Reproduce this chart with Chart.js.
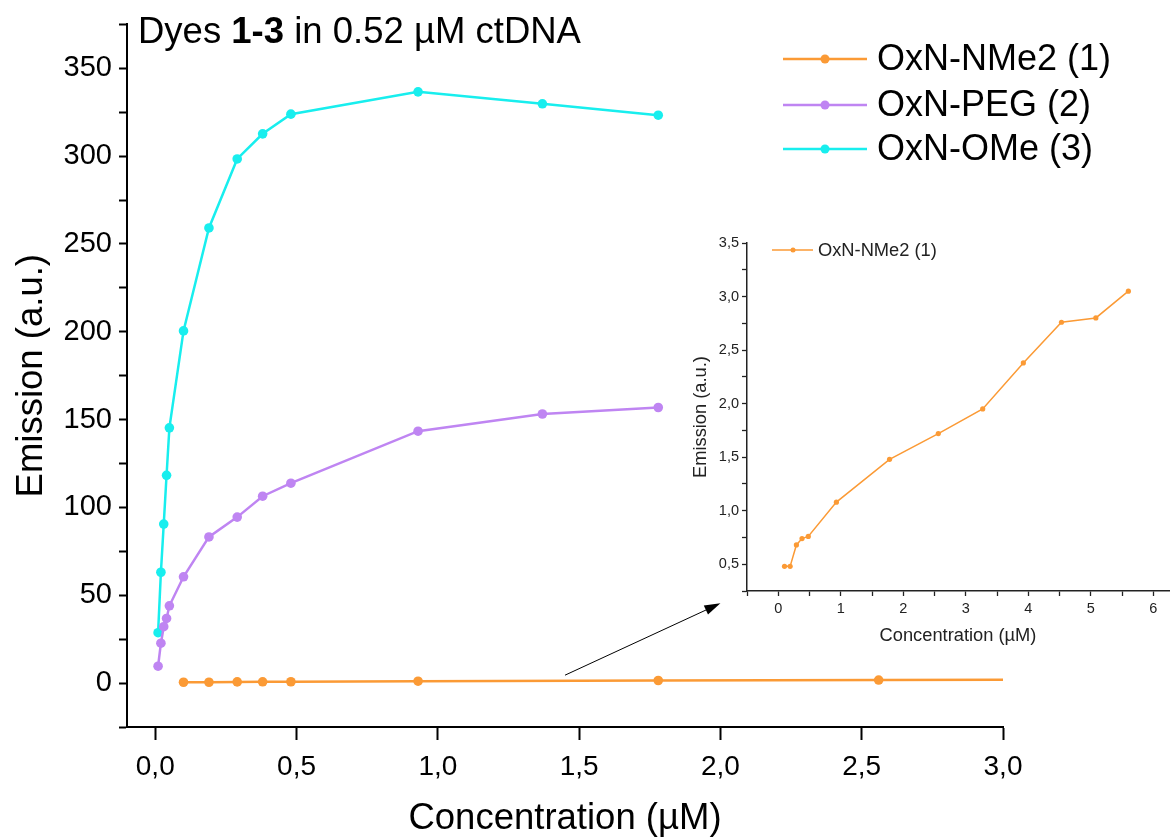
<!DOCTYPE html>
<html>
<head>
<meta charset="utf-8">
<script src="https://cdn.jsdelivr.net/npm/chart.js@4"></script>
<style>
  body { margin: 0; background: #fff; }
  #wrap { position: relative; width: 1173px; height: 839px; }
  #mainChart { position: absolute; left: 0; top: 0; }
  #insetChart { position: absolute; left: 690px; top: 220px; }
</style>
</head>
<body>
<div id="wrap">
  <canvas id="mainChart" width="1173" height="839"></canvas>
  <canvas id="insetChart" width="483" height="430"></canvas>
</div>
<script>
// concentrations (µM) shared by dyes 2 and 3
var conc = [0.01, 0.02, 0.03, 0.04, 0.05, 0.1, 0.19, 0.29, 0.38, 0.48, 0.93, 1.37, 1.78];
var pegEmission = [9.6, 22.7, 32.1, 36.8, 44.0, 60.5, 83.2, 94.5, 106.4, 113.8, 143.4, 153.2, 156.9];
var omeEmission = [28.7, 63.1, 90.5, 118.3, 145.3, 200.5, 259.1, 298.4, 312.7, 323.9, 336.6, 329.8, 323.3];

// dye 1 was measured on its own concentration series
var nme2Conc = [0.1, 0.19, 0.29, 0.38, 0.48, 0.93, 1.78, 2.56, 3.27, 3.92, 4.53, 5.08, 5.6];
var nme2Emission = [0.48, 0.48, 0.68, 0.74, 0.76, 1.08, 1.48, 1.72, 1.95, 2.38, 2.76, 2.80, 3.05];

var seriesNames = ['OxN-NMe2 (1)', 'OxN-PEG (2)', 'OxN-OMe (3)'];
var seriesColors = ['#fb9a35', '#bf85f2', '#18eeee'];

// arrow from the dye 1 curve to the inset, in data units of the main chart
var arrowFrom = { x: 1.45, y: 4.5 };
var arrowTo = { x: 2.0, y: 45.4 };

var FONT = "'Liberation Sans', Arial, sans-serif";

function pts(xs, ys) {
    return xs.map(function (x, i) { return { x: x, y: ys[i] }; });
}
function comma(v, d) {
    return v.toFixed(d).replace('.', ',');
}
function isMultiple(v, step) {
    var r = v / step;
    return Math.abs(r - Math.round(r)) < 1e-6;
}

// title, legend and arrow for the main chart
var mainDecor = {
    id: 'mainDecor',
    afterDraw: function (chart) {
        var ctx = chart.ctx;
        ctx.save();

        // title with bold dye numbers
        ctx.fillStyle = '#000';
        ctx.textBaseline = 'alphabetic';
        var x = 138, y = 43;
        var parts = [['Dyes ', ''], ['1-3', 'bold '], [' in 0.52 µM ctDNA', '']];
        parts.forEach(function (p) {
            ctx.font = p[1] + '36.5px ' + FONT;
            ctx.fillText(p[0], x, y);
            x += ctx.measureText(p[0]).width;
        });

        // legend
        var rows = [59, 105, 149];
        chart.data.datasets.forEach(function (ds, i) {
            var ly = rows[i];
            ctx.strokeStyle = ds.borderColor;
            ctx.lineWidth = 2.5;
            ctx.beginPath();
            ctx.moveTo(783, ly);
            ctx.lineTo(867, ly);
            ctx.stroke();
            ctx.fillStyle = ds.borderColor;
            ctx.beginPath();
            ctx.arc(825, ly, 4.5, 0, Math.PI * 2);
            ctx.fill();
            ctx.fillStyle = '#000';
            ctx.font = '36px ' + FONT;
            ctx.textBaseline = 'middle';
            ctx.fillText(ds.label, 877, ly + 1);
        });

        // arrow towards the inset
        var sx = chart.scales.x, sy = chart.scales.y;
        var x1 = sx.getPixelForValue(arrowFrom.x), y1 = sy.getPixelForValue(arrowFrom.y);
        var x2 = sx.getPixelForValue(arrowTo.x), y2 = sy.getPixelForValue(arrowTo.y);
        var ang = Math.atan2(y2 - y1, x2 - x1);
        ctx.strokeStyle = '#000';
        ctx.fillStyle = '#000';
        ctx.lineWidth = 1;
        ctx.beginPath();
        ctx.moveTo(x1, y1);
        ctx.lineTo(x2 - 10 * Math.cos(ang), y2 - 10 * Math.sin(ang));
        ctx.stroke();
        ctx.beginPath();
        ctx.moveTo(x2, y2);
        ctx.lineTo(x2 - 16 * Math.cos(ang) + 5 * Math.sin(ang), y2 - 16 * Math.sin(ang) - 5 * Math.cos(ang));
        ctx.lineTo(x2 - 16 * Math.cos(ang) - 5 * Math.sin(ang), y2 - 16 * Math.sin(ang) + 5 * Math.cos(ang));
        ctx.closePath();
        ctx.fill();

        ctx.restore();
    }
};

var mainCtx = document.getElementById('mainChart').getContext('2d');
var mainChart = new Chart(mainCtx, {
    type: 'line',
    data: {
        datasets: [
            { label: seriesNames[0], data: pts(nme2Conc, nme2Emission) },
            { label: seriesNames[1], data: pts(conc, pegEmission) },
            { label: seriesNames[2], data: pts(conc, omeEmission) }
        ].map(function (ds, i) {
            ds.borderColor = seriesColors[i];
            ds.backgroundColor = seriesColors[i];
            ds.borderWidth = 2.5;
            ds.pointRadius = 4.8;
            ds.pointBorderWidth = 0;
            ds.tension = 0;
            return ds;
        })
    },
    options: {
        responsive: false,
        animation: false,
        layout: { padding: { top: 21, right: 170, left: 0, bottom: 0 } },
        plugins: {
            legend: { display: false },
            tooltip: { enabled: false }
        },
        scales: {
            x: {
                type: 'linear',
                min: -0.1,
                max: 3.0,
                afterFit: function (scale) { scale.height = 112; },
                ticks: {
                    stepSize: 0.5,
                    includeBounds: false,
                    color: '#000',
                    padding: 10,
                    font: { family: FONT, size: 28 },
                    callback: function (v) { return comma(v, 1); }
                },
                grid: { drawOnChartArea: false, drawTicks: true, tickLength: 13, tickWidth: 2, tickColor: '#000' },
                border: { display: true, color: '#000', width: 2 },
                title: {
                    display: true,
                    text: 'Concentration (µM)',
                    color: '#000',
                    font: { family: FONT, size: 36.5, lineHeight: 1.08 },
                    padding: { top: 0, bottom: 0 }
                }
            },
            y: {
                min: -25,
                max: 375,
                afterFit: function (scale) { scale.width = 127; },
                ticks: {
                    stepSize: 25,
                    includeBounds: false,
                    color: '#000',
                    padding: 7,
                    font: { family: FONT, size: 29 },
                    callback: function (v) {
                        return (v >= 0 && v <= 350 && isMultiple(v, 50)) ? String(v) : '';
                    }
                },
                grid: { drawOnChartArea: false, drawTicks: true, tickLength: 8, tickWidth: 2, tickColor: '#000' },
                border: { display: true, color: '#000', width: 2 },
                title: {
                    display: true,
                    text: 'Emission (a.u.)',
                    color: '#000',
                    font: { family: FONT, size: 36.5 },
                    padding: { top: 10, bottom: 0 }
                }
            }
        }
    },
    plugins: [mainDecor]
});

// legend for the inset
var insetLegend = {
    id: 'insetLegend',
    afterDraw: function (chart) {
        var ctx = chart.ctx;
        var ds = chart.data.datasets[0];
        ctx.save();
        ctx.strokeStyle = ds.borderColor;
        ctx.lineWidth = 1.3;
        ctx.beginPath();
        ctx.moveTo(82, 30);
        ctx.lineTo(123, 30);
        ctx.stroke();
        ctx.fillStyle = ds.borderColor;
        ctx.beginPath();
        ctx.arc(103, 30, 2.5, 0, Math.PI * 2);
        ctx.fill();
        ctx.fillStyle = '#222';
        ctx.font = '18.3px ' + FONT;
        ctx.textBaseline = 'middle';
        ctx.fillText(ds.label, 128, 31);
        ctx.restore();
    }
};

var insetCtx = document.getElementById('insetChart').getContext('2d');
var insetChart = new Chart(insetCtx, {
    type: 'line',
    data: {
        datasets: [{
            label: seriesNames[0],
            data: pts(nme2Conc, nme2Emission),
            borderColor: seriesColors[0],
            backgroundColor: seriesColors[0],
            borderWidth: 1.5,
            pointRadius: 2.6,
            pointBorderWidth: 0,
            tension: 0
        }]
    },
    options: {
        responsive: false,
        animation: false,
        layout: { padding: { top: 23, right: 2, left: 0, bottom: 0 } },
        plugins: {
            legend: { display: false },
            tooltip: { enabled: false }
        },
        scales: {
            x: {
                type: 'linear',
                min: -0.5,
                max: 6.25,
                afterFit: function (scale) { scale.height = 59; },
                ticks: {
                    stepSize: 0.5,
                    includeBounds: false,
                    color: '#222',
                    padding: 4,
                    font: { family: FONT, size: 14.5 },
                    callback: function (v) { return (v >= 0 && isMultiple(v, 1)) ? String(v) : ''; }
                },
                grid: { drawOnChartArea: false, drawTicks: true, tickLength: 5, tickWidth: 1.3, tickColor: '#222' },
                border: { display: true, color: '#222', width: 1.5 },
                title: {
                    display: true,
                    text: 'Concentration (µM)',
                    color: '#222',
                    font: { family: FONT, size: 18.3 },
                    padding: { top: 0, bottom: 3 }
                }
            },
            y: {
                min: 0.25,
                max: 3.5,
                afterFit: function (scale) { scale.width = 57; },
                ticks: {
                    stepSize: 0.25,
                    includeBounds: false,
                    color: '#222',
                    padding: 3,
                    font: { family: FONT, size: 14.5 },
                    callback: function (v) { return (v >= 0.5 && isMultiple(v, 0.5)) ? comma(v, 1) : ''; }
                },
                grid: { drawOnChartArea: false, drawTicks: true, tickLength: 5, tickWidth: 1.3, tickColor: '#222' },
                border: { display: true, color: '#222', width: 1.5 },
                title: {
                    display: true,
                    text: 'Emission (a.u.)',
                    color: '#222',
                    font: { family: FONT, size: 18.3 },
                    padding: { top: 0, bottom: 0 }
                }
            }
        }
    },
    plugins: [insetLegend]
});
</script>
</body>
</html>
